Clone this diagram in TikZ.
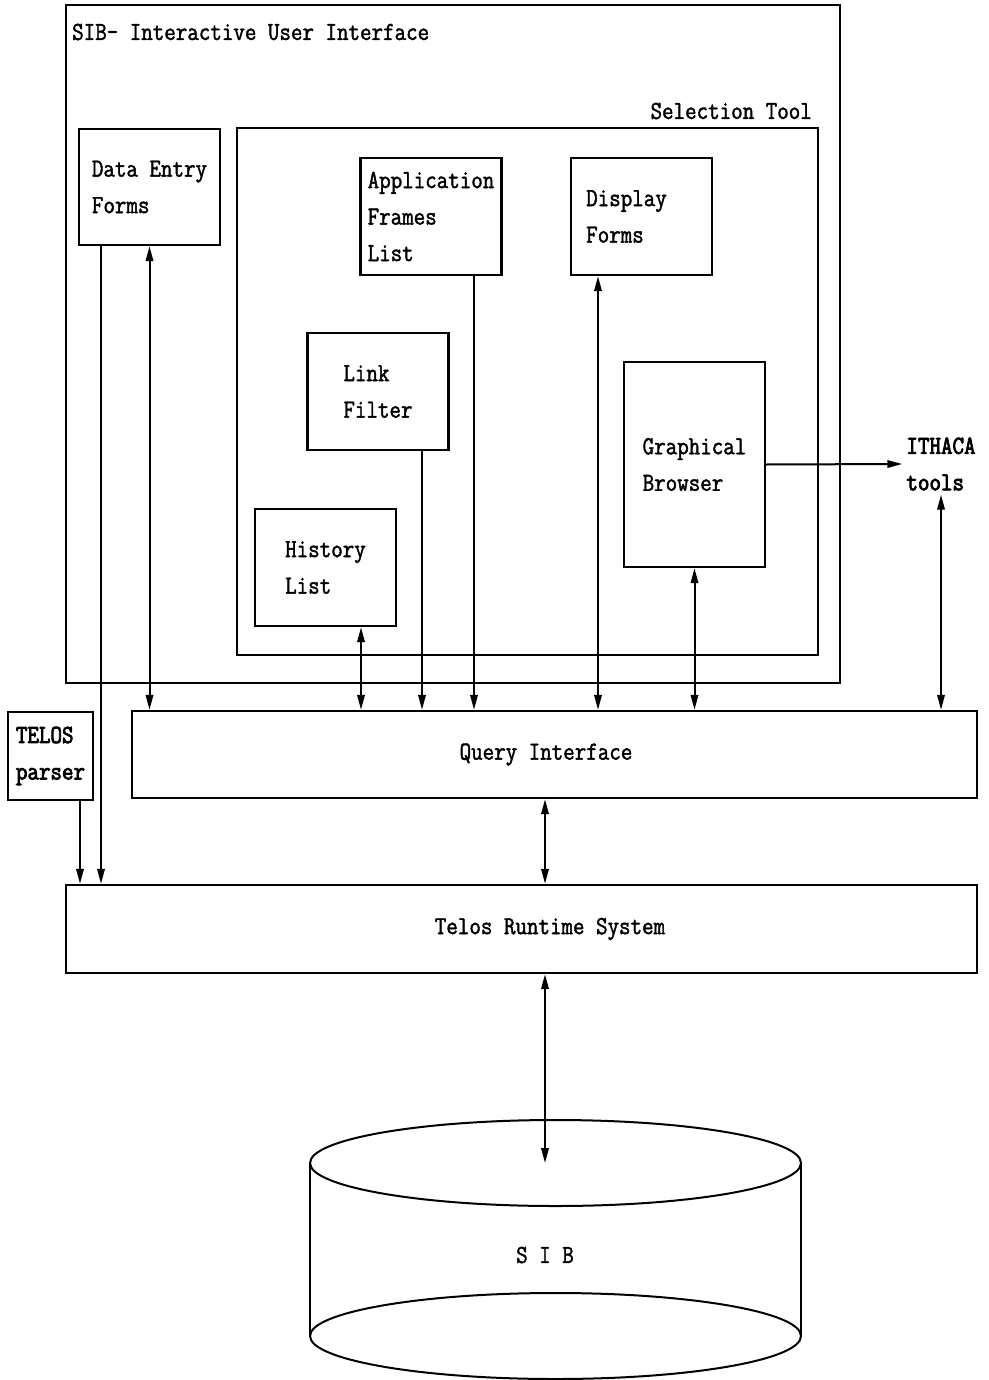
\documentclass[tikz,border=0pt]{standalone}
\usepackage{fontspec}
\setmonofont[FakeStretch=0.86, FakeBold=1.6]{Latin Modern Mono}
\newfontfamily\heavytt[FakeStretch=0.86, FakeBold=3]{Latin Modern Mono}
\usetikzlibrary{arrows.meta,positioning}

\begin{document}
\begin{tikzpicture}[
    x=1pt, y=-1pt,
    every node/.style={font=\ttfamily\fontsize{26}{36.5}\selectfont},
    box/.style={draw, line width=2.4pt, align=left, inner sep=4pt},
    smallbox/.style={box, minimum width=141pt, minimum height=117pt},
    band/.style={draw, line width=2.4pt, minimum height=87pt},
    lbl/.style={inner sep=2pt},
    heavy/.style={font=\heavytt\fontsize{26}{36.5}\selectfont},
    arrow/.style={-{Triangle[length=15pt,width=7.5pt]}, line width=2pt},
    darrow/.style={{Triangle[length=15pt,width=7.5pt]}-{Triangle[length=15pt,width=7.5pt]}, line width=2pt}
  ]
    \useasboundingbox (0,0) rectangle (988,1380);
    \node[box, minimum width=774pt, minimum height=678pt] (ui) at (453,344) {};
    \node[lbl, anchor=west] (uititle) at (70,32) {SIB- Interactive User Interface};
    \node[box, minimum width=581pt, minimum height=527pt] (sel) at (527.5,391.5) {};
    \node[lbl, anchor=east] (seltitle) at (814,111) {Selection Tool};
    \node[smallbox, minimum height=116pt] (forms) at (149.5,187) {Data Entry\\Forms};
    \node[smallbox] (frames) at (431,216.5) {Application\\Frames\\List};
    \node[smallbox] (display) at (641.5,216.5) {Display\hspace*{30pt}\\Forms};
    \node[smallbox] (filter) at (378,391.5) {Link\\Filter};
    \node[smallbox, minimum height=205pt] (browser) at (694.5,464.5) {Graphical\\Browser};
    \node[smallbox] (history) at (325.5,567.5) {History\\List};
    \node[lbl, heavy, align=left, inner sep=4pt] (ithaca) at (941,464) {ITHACA\\tools};
    \node[box, heavy, minimum width=85pt, minimum height=88pt, inner sep=2pt] (parser) at (50.5,756) {TELOS\\parser};
    \node[band, minimum width=845pt] (query) at (554.5,754.5) {Query Interface\hspace*{17pt}};
    \node[band, minimum width=911pt, minimum height=88pt] (runtime) at (521.5,929) {\hspace*{57pt}Telos Runtime System};
    \draw[line width=2pt] (555.5,1163) ellipse [x radius=245.5pt, y radius=43pt];
    \draw[line width=2pt] (310,1163) -- (310,1336);
    \draw[line width=2pt] (801,1163) -- (801,1336);
    \draw[line width=2pt] (555.5,1336) ellipse [x radius=245.5pt, y radius=43pt];
    \node (sib) at (545,1255) {S I B};
    \coordinate (sibtop) at (545,1163);
    \draw[arrow] ([xshift=-48.5pt]forms.south) -- ([xshift=-48.5pt]forms.south |- runtime.north);
    \draw[darrow] (forms.south) -- (forms.south |- query.north);
    \draw[darrow] ([xshift=35.5pt]history.south) -- ([xshift=35.5pt]history.south |- query.north);
    \draw[arrow] ([xshift=44pt]filter.south) -- ([xshift=44pt]filter.south |- query.north);
    \draw[arrow] ([xshift=43pt]frames.south) -- ([xshift=43pt]frames.south |- query.north);
    \draw[darrow] ([xshift=-43.5pt]display.south) -- ([xshift=-43.5pt]display.south |- query.north);
    \draw[darrow] (browser.south) -- (browser.south |- query.north);
    \draw[arrow] (browser.east) -- (ithaca.west);
    \draw[darrow] (ithaca.south) -- (ithaca.south |- query.north);
    \draw[darrow] ([xshift=-9.5pt]query.south) -- ([xshift=-9.5pt]query.south |- runtime.north);
    \draw[arrow] ([xshift=29.5pt]parser.south) -- ([xshift=29.5pt]parser.south |- runtime.north);
    \draw[darrow] (sibtop |- runtime.south) -- (sibtop);
  \end{tikzpicture}
\end{document}
